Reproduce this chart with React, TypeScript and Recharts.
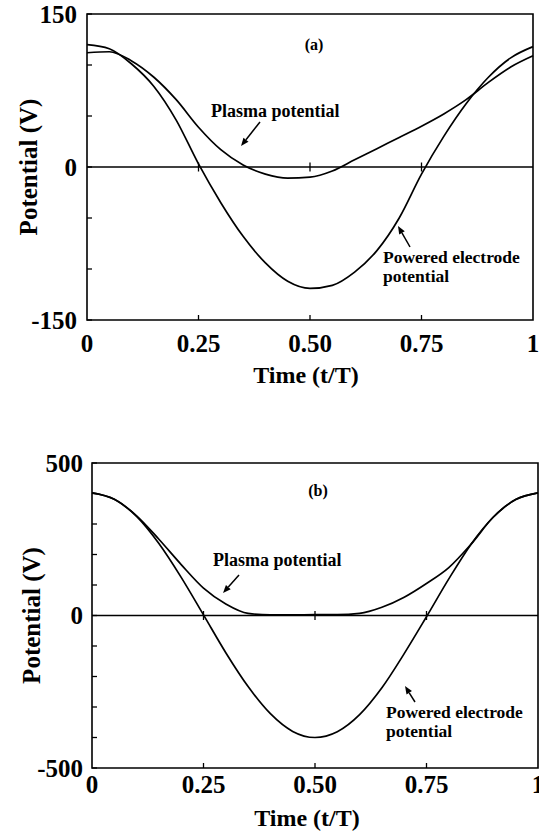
import { LineChart, Line, XAxis, YAxis, ReferenceLine, ReferenceArea, ReferenceDot } from 'recharts'

const TIME = [0, 0.05, 0.1, 0.15, 0.2, 0.25, 0.3, 0.35, 0.4, 0.45, 0.5, 0.55, 0.6, 0.65, 0.7, 0.75, 0.8, 0.85, 0.9, 0.95, 1]

// panel (a)
const ELECTRODE_A = [120, 116, 101, 79, 46, 3, -35, -68, -94, -112, -119, -116, -103, -82, -50, -7, 30, 62, 88, 107, 118]
const PLASMA_A = [112, 113, 104, 88, 66, 39, 17, 2, -7, -11, -10, -4, 7, 18, 29, 40, 52, 66, 83, 98, 109]

// panel (b)
const ELECTRODE_B = [402, 381, 325, 236, 125, 2, -122, -233, -322, -380, -400, -381, -325, -237, -125, -4, 120, 234, 323, 380, 402]
const PLASMA_B = [402, 381, 327, 250, 167, 90, 38, 7, 2, 2, 3, 3, 7, 27, 60, 105, 157, 234, 323, 380, 402]

const X_TICKS = [0, 0.25, 0.5, 0.75, 1]
const X_LABELS = ['0', '0.25', '0.50', '0.75', '1']
const Y_TICKS_A = [-150, -100, -50, 0, 50, 100, 150]
const Y_LABELS_A = [-150, 0, 150]
const Y_TICKS_B = [-500, -400, -300, -200, -100, 0, 100, 200, 300, 400, 500]
const Y_LABELS_B = [-500, 0, 500]

const FONT = "'Liberation Serif', 'Times New Roman', serif"
const INNER = [0.25, 0.5, 0.75]

const tableA = TIME.map((t, i) => ({ t, electrode: ELECTRODE_A[i], plasma: PLASMA_A[i] }))
const tableB = TIME.map((t, i) => ({ t, electrode: ELECTRODE_B[i], plasma: PLASMA_B[i] }))

function makeXTick(labelGap: number) {
  return (props: any) => {
    const { x, y, payload } = props
    const i = X_TICKS.indexOf(payload.value)
    return (
      <g>
        {INNER.includes(payload.value) && <line x1={x} x2={x} y1={y} y2={y - 5} stroke="#000" strokeWidth={1.3} />}
        <text x={x} y={y + labelGap} textAnchor="middle" fontFamily={FONT} fontWeight="bold" fontSize={25} fill="#000">
          {X_LABELS[i]}
        </text>
      </g>
    )
  }
}

function makeYTick(labels: number[], gap: number) {
  return (props: any) => {
    const { x, y, payload } = props
    return (
      <g>
        <line x1={x} x2={x + 5} y1={y} y2={y} stroke="#000" strokeWidth={1.3} />
        {labels.includes(payload.value) && (
          <text x={x - gap} y={y + 8.5} textAnchor="end" fontFamily={FONT} fontWeight="bold" fontSize={25} fill="#000">
            {payload.value}
          </text>
        )}
      </g>
    )
  }
}

const zeroTick = (props: any) => (
  <line x1={props.cx} x2={props.cx} y1={props.cy - 4.5} y2={props.cy + 4.5} stroke="#000" strokeWidth={1.3} />
)

interface PanelProps {
  data: any[]
  top: number
  height: number
  marginTop: number
  yWidth: number
  marginRight: number
  xHeight: number
  yDomain: [number, number]
  yTicks: number[]
  yLabels: number[]
  yGap: number
  xLabelGap: number
  titleDy: number
  titleDx: number
}

function Panel(p: PanelProps) {
  return (
    <div style={{ position: 'absolute', left: 0, top: p.top }}>
      <LineChart width={539} height={p.height} data={p.data} margin={{ top: p.marginTop, right: p.marginRight, bottom: 0, left: 0 }}>
        <XAxis
          dataKey="t"
          type="number"
          domain={[0, 1]}
          ticks={X_TICKS}
          interval={0}
          tickSize={0}
          tickMargin={0}
          axisLine={false}
          height={p.xHeight}
          tick={makeXTick(p.xLabelGap)}
          label={{
            content: (lp: any) => {
              const vb = lp.viewBox
              return (
                <text x={vb.x + vb.width / 2 + p.titleDx} y={vb.y + p.titleDy} textAnchor="middle" fontFamily={FONT} fontWeight="bold" fontSize={24} fill="#000">
                  Time (t/T)
                </text>
              )
            },
          }}
        />
        <YAxis
          type="number"
          domain={p.yDomain}
          ticks={p.yTicks}
          interval={0}
          tickSize={0}
          tickMargin={0}
          axisLine={false}
          width={p.yWidth}
          tick={makeYTick(p.yLabels, p.yGap)}
          label={{
            content: (lp: any) => {
              const vb = lp.viewBox
              const cx = p.yWidth === 87 ? 28 : 31
              const cy = vb.y + vb.height / 2
              return (
                <text x={cx} y={cy} transform={`rotate(-90 ${cx} ${cy})`} textAnchor="middle" dominantBaseline="central" fontFamily={FONT} fontWeight="bold" fontSize={25} fill="#000">
                  Potential (V)
                </text>
              )
            },
          }}
        />
        <ReferenceArea x1={0} x2={1} y1={p.yDomain[0]} y2={p.yDomain[1]} stroke="#000" strokeWidth={1.6} fill="none" fillOpacity={0} />
        <ReferenceLine y={0} stroke="#000" strokeWidth={1.6} />
        {INNER.map((t) => (
          <ReferenceDot key={t} x={t} y={0} r={0} shape={zeroTick} />
        ))}
        <Line dataKey="electrode" type="monotone" stroke="#000" strokeWidth={1.7} dot={false} isAnimationActive={false} />
        <Line dataKey="plasma" type="monotone" stroke="#000" strokeWidth={1.7} dot={false} isAnimationActive={false} />
      </LineChart>
    </div>
  )
}

function Arrow({ x1, y1, x2, y2 }: { x1: number; y1: number; x2: number; y2: number }) {
  const a = Math.atan2(y2 - y1, x2 - x1)
  const len = 8
  const w = 3.2
  const bx = x2 - len * Math.cos(a)
  const by = y2 - len * Math.sin(a)
  const px = -Math.sin(a) * w
  const py = Math.cos(a) * w
  return (
    <g>
      <line x1={x1} y1={y1} x2={bx} y2={by} stroke="#000" strokeWidth={1.5} />
      <polygon points={`${x2},${y2} ${bx + px},${by + py} ${bx - px},${by - py}`} fill="#000" />
    </g>
  )
}

const txt = { fontFamily: FONT, fontWeight: 'bold' as const, fontSize: 18, fill: '#000' }

export default function App() {
  return (
    <div style={{ position: 'absolute', left: 0, top: 0, width: 539, height: 834, background: '#fff' }}>
      <Panel data={tableA} top={0} height={400} marginTop={14} yWidth={87} marginRight={6} xHeight={80} yDomain={[-150, 150]} yTicks={Y_TICKS_A} yLabels={Y_LABELS_A} yGap={10} xLabelGap={32} titleDy={63} titleDx={-4} />
      <Panel data={tableB} top={440} height={394} marginTop={23} yWidth={92} marginRight={1} xHeight={66} yDomain={[-500, 500]} yTicks={Y_TICKS_B} yLabels={Y_LABELS_B} yGap={9} xLabelGap={25} titleDy={58} titleDx={-8} />
      <svg width={539} height={834} style={{ position: 'absolute', left: 0, top: 0, pointerEvents: 'none' }}>
        <text x={314} y={50} textAnchor="middle" {...txt} fontSize={16}>(a)</text>
        <text x={211} y={117} {...txt}>Plasma potential</text>
        <Arrow x1={260} y1={122} x2={241} y2={146} />
        <text x={383} y={263} {...txt} fontSize={17.5}>Powered electrode</text>
        <text x={383} y={282} {...txt} fontSize={17.5}>potential</text>
        <Arrow x1={410} y1={247} x2={398} y2={226} />

        <text x={318} y={496} textAnchor="middle" {...txt} fontSize={16}>(b)</text>
        <text x={213} y={566} {...txt}>Plasma potential</text>
        <Arrow x1={239} y1={575} x2={223} y2={593} />
        <text x={386} y={718} {...txt} fontSize={17.5}>Powered electrode</text>
        <text x={386} y={737} {...txt} fontSize={17.5}>potential</text>
        <Arrow x1={415} y1={702} x2={405} y2={686} />
      </svg>
    </div>
  )
}
